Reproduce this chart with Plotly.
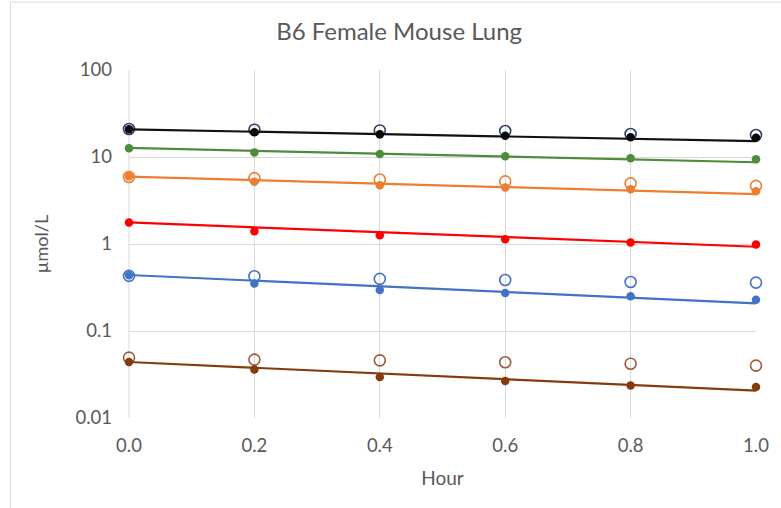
import plotly.graph_objects as go

hours = [0.0, 0.2, 0.4, 0.6, 0.8, 1.0]
fit_hours = [0.0, 1.0]

black_filled = [20.8, 19.2, 18.2, 17.5, 16.9, 16.6]
black_open = [21.0, 20.6, 20.2, 19.9, 18.4, 17.9]
black_fit = [20.8, 15.2]

green_filled = [12.6, 11.3, 10.8, 10.2, 9.7, 9.4]
green_fit = [12.7, 8.7]

orange_filled = [6.0, 5.2, 4.75, 4.47, 4.27, 4.05]
orange_open = [5.9, 5.72, 5.52, 5.24, 4.97, 4.66]
orange_fit = [5.95, 3.74]

red_filled = [1.77, 1.40, 1.26, 1.135, 1.04, 0.987]
red_fit = [1.77, 0.93]

blue_filled = [0.437, 0.351, 0.296, 0.274, 0.251, 0.228]
blue_open = [0.43, 0.426, 0.397, 0.386, 0.366, 0.36]
blue_fit = [0.44, 0.208]

brown_filled = [0.044, 0.036, 0.0296, 0.0266, 0.0237, 0.0227]
brown_open = [0.0494, 0.0469, 0.046, 0.0437, 0.0421, 0.040]
brown_fit = [0.044, 0.0206]

y_ticks = [0.01, 0.1, 1, 10, 100]
y_ticklabels = ["0.01", "0.1", "1", "10", "100"]
x_ticks = [0.0, 0.2, 0.4, 0.6, 0.8, 1.0]
x_ticklabels = ["0.0", "0.2", "0.4", "0.6", "0.8", "1.0"]

FONT = "Lato, 'Open Sans', sans-serif"
GRAY = "#595959"

fig = go.Figure()

def open_pts(y, color):
    fig.add_trace(go.Scatter(x=hours, y=y, mode="markers", cliponaxis=False,
                             marker=dict(symbol="circle-open", size=11, color=color,
                                         line=dict(width=1.6, color=color)),
                             showlegend=False, hoverinfo="skip"))

def fit_line(y, color):
    fig.add_trace(go.Scatter(x=fit_hours, y=y, mode="lines", cliponaxis=False,
                             line=dict(color=color, width=2.2),
                             showlegend=False, hoverinfo="skip"))

def filled_pts(y, color):
    fig.add_trace(go.Scatter(x=hours, y=y, mode="markers", cliponaxis=False,
                             marker=dict(symbol="circle", size=8.5, color=color),
                             showlegend=False, hoverinfo="skip"))

series = [
    (black_open, "#2B3A67", black_fit, "#111111", black_filled, "#0A0A0A"),
    (None, None, green_fit, "#4E8B3A", green_filled, "#4E8B3A"),
    (orange_open, "#ED7D31", orange_fit, "#ED7D31", orange_filled, "#ED7D31"),
    (None, None, red_fit, "#FF0000", red_filled, "#FF0000"),
    (blue_open, "#4472C4", blue_fit, "#4472C4", blue_filled, "#4472C4"),
    (brown_open, "#9C5A3C", brown_fit, "#843C0C", brown_filled, "#843C0C"),
]

for op, opc, ft, ftc, fl, flc in series:
    if op is not None:
        open_pts(op, opc)
for op, opc, ft, ftc, fl, flc in series:
    fit_line(ft, ftc)
    filled_pts(fl, flc)

L, R, T, B = 129, 23, 70, 90
W, H = 781, 508
pw = W - L - R
ph = H - T - B

def px_x(px):
    return (px - L) / pw

def px_y(py):
    return (H - B - py) / ph

fig.update_layout(
    width=W, height=H,
    margin=dict(l=L, r=R, t=T, b=B),
    paper_bgcolor="white", plot_bgcolor="white",
    font=dict(family=FONT, color=GRAY, size=18),
    title=dict(text="B6 Female Mouse Lung", x=px_x(400), xref="paper",
               xanchor="center", y=1 - 32 / H, yanchor="middle",
               font=dict(size=24, color=GRAY, family=FONT)),
    xaxis=dict(range=[0, 1], tickvals=x_ticks, ticktext=x_ticklabels,
               showgrid=True, gridcolor="#D9D9D9", gridwidth=1,
               zeroline=False, showline=False, ticks="",
               ticklabelstandoff=14,
               tickfont=dict(size=18.5, color=GRAY),
               title=dict(text="Hour", font=dict(size=19, color=GRAY), standoff=17)),
    yaxis=dict(type="log", range=[-2, 2], tickvals=y_ticks, ticktext=y_ticklabels,
               showgrid=True, gridcolor="#D9D9D9", gridwidth=1,
               zeroline=False, showline=False, ticks="",
               ticklabelstandoff=16,
               tickfont=dict(size=18.5, color=GRAY),
               title=dict(text="µmol/L", font=dict(size=18, color=GRAY), standoff=22)),
    shapes=[
        dict(type="rect", xref="paper", yref="paper",
             x0=px_x(10), x1=px_x(800), y0=px_y(530), y1=px_y(2),
             line=dict(color="#D9D9D9", width=1), fillcolor="rgba(0,0,0,0)",
             layer="below"),
        dict(type="line", xref="paper", yref="paper",
             x0=0, x1=0, y0=0, y1=1, line=dict(color="#D9D9D9", width=1), layer="below"),
    ],
)

fig.write_html("out.html")
